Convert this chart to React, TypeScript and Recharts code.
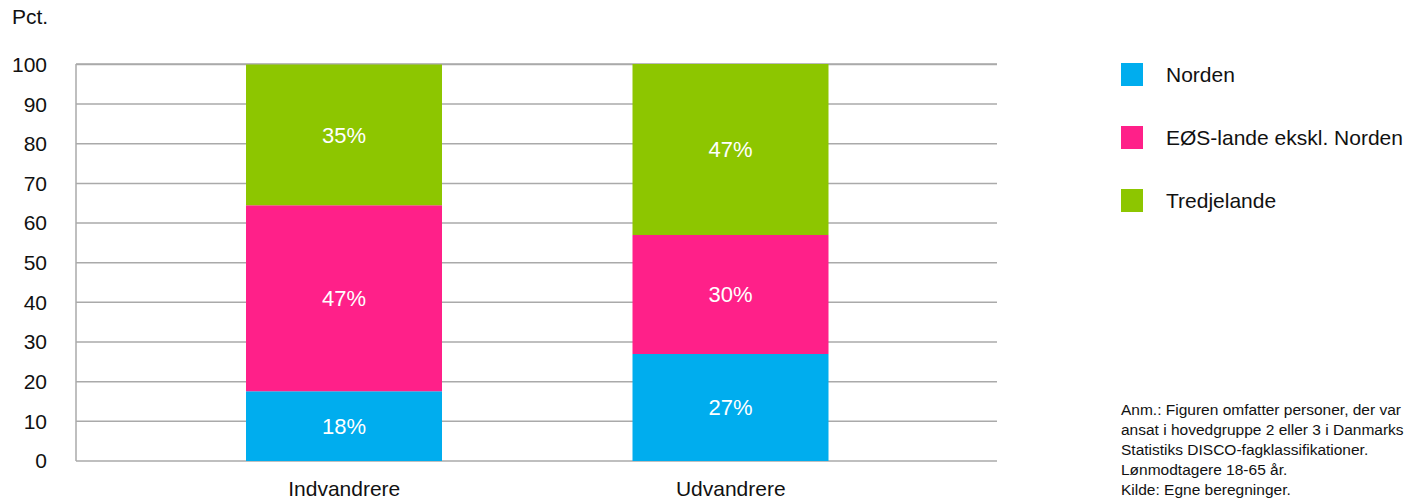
import { BarChart, Bar, XAxis, YAxis, CartesianGrid, LabelList } from "recharts";

const categories = ["Indvandrere", "Udvandrere"];
const norden = [17.6, 27.0];
const eos = [46.9, 30.0];
const tredje = [35.5, 43.1];
const nordenLabels = ["18%", "27%"];
const eosLabels = ["47%", "30%"];
const tredjeLabels = ["35%", "47%"];
const yTicks = [0, 10, 20, 30, 40, 50, 60, 70, 80, 90, 100];

const seriesNames = ["Norden", "EØS-lande ekskl. Norden", "Tredjelande"];
const colors = ["#00adee", "#ff2089", "#8dc600"];

const noteLines = [
  "Anm.: Figuren omfatter personer, der var",
  "ansat i hovedgruppe 2 eller 3 i Danmarks",
  "Statistiks DISCO-fagklassifikationer.",
  "Lønmodtagere 18-65 år.",
  "Kilde: Egne beregninger.",
];

const FONT = '"Liberation Sans", Arial, Helvetica, sans-serif';

const data = categories.map((c, i) => ({
  name: c,
  norden: norden[i],
  eos: eos[i],
  tredje: tredje[i],
  nordenLabel: nordenLabels[i],
  eosLabel: eosLabels[i],
  tredjeLabel: tredjeLabels[i],
}));

function LegendBox() {
  return (
    <div style={{ position: "absolute", left: 1121, top: 63, fontFamily: FONT }}>
      {seriesNames.map((n, i) => (
        <div key={n} style={{ display: "flex", alignItems: "center", height: 23, marginBottom: 40 }}>
          <div style={{ width: 22, height: 23, background: colors[i], flex: "none" }} />
          <span style={{ marginLeft: 23, fontSize: 21, color: "#111", whiteSpace: "nowrap" }}>{n}</span>
        </div>
      ))}
    </div>
  );
}

export default function App() {
  return (
    <div style={{ position: "absolute", left: 0, top: 0, width: 1408, height: 499, background: "#fff", fontFamily: FONT, overflow: "hidden" }}>
      <div style={{ position: "absolute", left: 12, top: 5, fontSize: 21, color: "#111" }}>Pct.</div>
      <BarChart
        width={1408}
        height={499}
        data={data}
        margin={{ top: 64, right: 411, bottom: 0, left: 0 }}
        style={{ fontFamily: FONT }}
      >
        <CartesianGrid vertical={false} stroke="#aaaaaa" strokeWidth={1.5} />
        <XAxis
          dataKey="name"
          height={38}
          padding={{ left: 75, right: 73 }}
          axisLine={false}
          tickLine={false}
          tickMargin={14}
          tick={{ fontSize: 21, fill: "#111" }}
        />
        <YAxis
          width={76}
          domain={[0, 100]}
          ticks={yTicks}
          interval={0}
          axisLine={{ stroke: "#aaaaaa", strokeWidth: 1.5 }}
          tickLine={false}
          tickMargin={23}
          tick={{ fontSize: 21, fill: "#111" }}
        />
        <Bar dataKey="norden" stackId="a" fill={colors[0]} barSize={196} isAnimationActive={false}>
          <LabelList dataKey="nordenLabel" position="center" fill="#fff" fontSize={22} />
        </Bar>
        <Bar dataKey="eos" stackId="a" fill={colors[1]} barSize={196} isAnimationActive={false}>
          <LabelList dataKey="eosLabel" position="center" fill="#fff" fontSize={22} />
        </Bar>
        <Bar dataKey="tredje" stackId="a" fill={colors[2]} barSize={196} isAnimationActive={false}>
          <LabelList dataKey="tredjeLabel" position="center" fill="#fff" fontSize={22} />
        </Bar>
      </BarChart>
      <LegendBox />
      <div style={{ position: "absolute", left: 1121, top: 400, fontSize: 15.5, lineHeight: "20px", color: "#111" }}>
        {noteLines.map((l) => (
          <div key={l} style={{ whiteSpace: "nowrap" }}>{l}</div>
        ))}
      </div>
    </div>
  );
}
